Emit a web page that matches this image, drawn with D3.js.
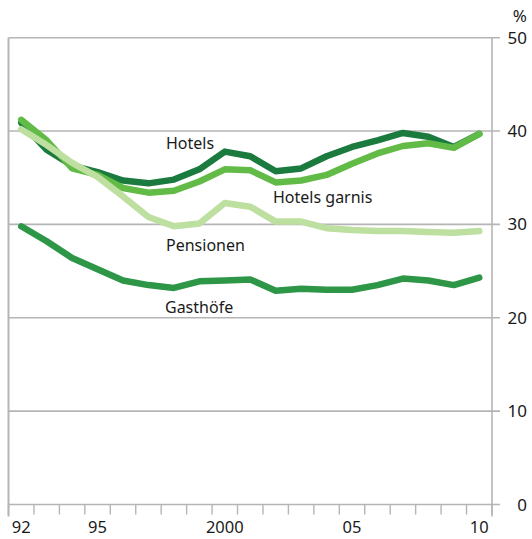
<!DOCTYPE html>
<html>
<head>
<meta charset="utf-8">
<script src="https://cdn.jsdelivr.net/npm/d3@7"></script>
<style>
  body { margin: 0; background: #fff; }
  svg { display: block; font-family: "Noto Sans", sans-serif; }
</style>
</head>
<body>
<svg></svg>
<script>

var years = [1992, 1993, 1994, 1995, 1996, 1997, 1998, 1999, 2000, 2001,
             2002, 2003, 2004, 2005, 2006, 2007, 2008, 2009, 2010];

var hotels      = [40.9, 38.0, 36.3, 35.6, 34.7, 34.4, 34.8, 35.9, 37.8, 37.3,
                   35.7, 36.0, 37.3, 38.3, 39.0, 39.8, 39.4, 38.3, 39.7];
var hotelsGarni = [41.2, 39.0, 36.0, 35.3, 33.9, 33.4, 33.6, 34.6, 35.9, 35.8,
                   34.5, 34.7, 35.3, 36.5, 37.6, 38.4, 38.7, 38.2, 39.7];
var pensionen   = [40.2, 38.5, 36.6, 35.1, 33.0, 30.8, 29.8, 30.1, 32.3, 31.9,
                   30.3, 30.3, 29.6, 29.4, 29.3, 29.3, 29.2, 29.1, 29.3];
var gasthoefe   = [29.8, 28.2, 26.4, 25.2, 24.0, 23.5, 23.2, 23.9, 24.0, 24.1,
                   22.9, 23.1, 23.0, 23.0, 23.5, 24.2, 24.0, 23.5, 24.3];

var yTicks = [0, 10, 20, 30, 40, 50];
var xLabels = [{ year: 1992, text: "92" }, { year: 1995, text: "95" },
               { year: 2000, text: "2000" }, { year: 2005, text: "05" },
               { year: 2010, text: "10" }];

// drawing order: last one ends up on top
var series = [
  { name: "Gasthöfe",      values: gasthoefe,   color: "#2e9647", lx: 165, ly: 313 },
  { name: "Hotels",        values: hotels,      color: "#1b7a3e", lx: 166, ly: 149 },
  { name: "Hotels garnis", values: hotelsGarni, color: "#63bb47", lx: 273, ly: 203 },
  { name: "Pensionen",     values: pensionen,   color: "#bddf9f", lx: 166, ly: 251 }
];

var width = 532,
    height = 539;

var svg = d3.select("svg")
    .attr("width", width)
    .attr("height", height);

var x = d3.scaleLinear().domain([1991.5, 2010.5]).range([8.5, 492]);
var y = d3.scaleLinear().domain([0, 50]).range([504.5, 37.7]);

var grey = "#b5b5b5";

// horizontal grid lines, running a bit past the right axis
svg.append("g")
    .attr("class", "grid")
  .selectAll("line")
  .data(yTicks)
  .enter().append("line")
    .attr("x1", x.range()[0])
    .attr("x2", x.range()[1] + 8)
    .attr("y1", function(d) { return y(d); })
    .attr("y2", function(d) { return y(d); })
    .attr("stroke", grey)
    .attr("stroke-width", 1.6);

// left and right frame lines
svg.append("line")
    .attr("x1", x.range()[0]).attr("x2", x.range()[0])
    .attr("y1", y(50)).attr("y2", y(0) + 12)
    .attr("stroke", grey)
    .attr("stroke-width", 2);

svg.append("line")
    .attr("x1", x.range()[1]).attr("x2", x.range()[1])
    .attr("y1", y(50)).attr("y2", y(0) + 12)
    .attr("stroke", grey)
    .attr("stroke-width", 1.6);

// year ticks between the years
var tickYears = d3.range(1991.5, 2011, 1);
svg.append("g")
    .attr("class", "xticks")
  .selectAll("line")
  .data(tickYears)
  .enter().append("line")
    .attr("x1", function(d) { return x(d); })
    .attr("x2", function(d) { return x(d); })
    .attr("y1", y(0))
    .attr("y2", y(0) + 10)
    .attr("stroke", grey)
    .attr("stroke-width", 1.4);

// labels
svg.append("g")
    .attr("class", "xlabels")
  .selectAll("text")
  .data(xLabels)
  .enter().append("text")
    .attr("x", function(d) { return x(d.year); })
    .attr("y", 533)
    .attr("text-anchor", "middle")
    .attr("font-size", 16.5)
    .attr("fill", "#1a1a1a")
    .text(function(d) { return d.text; });

svg.append("g")
    .attr("class", "ylabels")
  .selectAll("text")
  .data(yTicks)
  .enter().append("text")
    .attr("x", 527)
    .attr("y", function(d) { return y(d) + 6; })
    .attr("text-anchor", "end")
    .attr("font-size", 17)
    .attr("fill", "#1a1a1a")
    .text(function(d) { return d; });

svg.append("text")
    .attr("x", 527)
    .attr("y", 22)
    .attr("text-anchor", "end")
    .attr("font-size", 17)
    .attr("fill", "#1a1a1a")
    .text("%");

// the lines
var line = d3.line()
    .x(function(d, i) { return x(years[i]); })
    .y(function(d) { return y(d); });

svg.append("g")
    .attr("class", "lines")
  .selectAll("path")
  .data(series)
  .enter().append("path")
    .attr("d", function(d) { return line(d.values); })
    .attr("fill", "none")
    .attr("stroke", function(d) { return d.color; })
    .attr("stroke-width", 6.5)
    .attr("stroke-linejoin", "round")
    .attr("stroke-linecap", "round");

svg.append("g")
    .attr("class", "labels")
  .selectAll("text")
  .data(series)
  .enter().append("text")
    .attr("x", function(d) { return d.lx; })
    .attr("y", function(d) { return d.ly; })
    .attr("font-size", 16)
    .attr("fill", "#1a1a1a")
    .text(function(d) { return d.name; });

</script>
</body>
</html>
